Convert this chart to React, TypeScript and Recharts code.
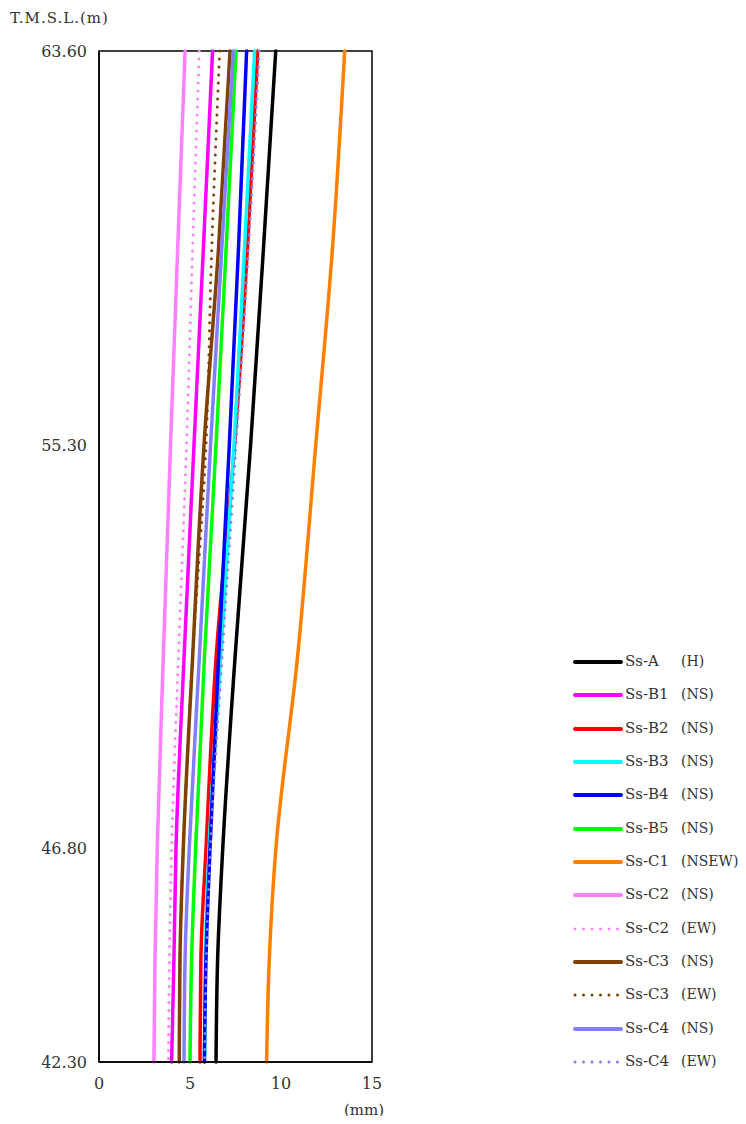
import { LineChart, Line, XAxis, YAxis, ReferenceArea } from 'recharts'

// elevation (T.M.S.L., m) at which each displacement was read
const ELEVATIONS = [63.6, 59.4, 55.3, 50.8, 46.8, 44.5, 42.3]
const Y_TICKS = [42.3, 46.8, 55.3, 63.6]
const X_TICKS = [0, 5, 10, 15]

// displacement (mm), same order as ELEVATIONS
const SS_A = [9.71, 9.03, 8.33, 7.47, 6.8, 6.52, 6.43]
const SS_B1 = [6.24, 5.73, 5.22, 4.67, 4.23, 4.12, 3.99]
const SS_B2 = [8.72, 8.15, 7.45, 6.43, 5.88, 5.6, 5.55]
const SS_B3 = [8.55, 7.99, 7.42, 6.68, 6.05, 5.85, 5.8]
const SS_B4 = [8.11, 7.66, 7.16, 6.57, 6.1, 5.88, 5.79]
const SS_B5 = [7.53, 6.98, 6.43, 5.79, 5.31, 5.09, 5.0]
const SS_C1 = [13.5, 12.82, 11.91, 10.9, 9.72, 9.36, 9.21]
const SS_C2_NS = [4.73, 4.32, 3.93, 3.53, 3.2, 3.08, 3.02]
const SS_C2_EW = [5.51, 5.14, 4.81, 4.36, 3.99, 3.87, 3.81]
const SS_C3_NS = [7.2, 6.56, 5.77, 5.14, 4.63, 4.45, 4.41]
const SS_C3_EW = [6.63, 6.19, 5.88, 5.14, 4.63, 4.45, 4.41]
const SS_C4_NS = [7.38, 6.74, 6.13, 5.51, 4.96, 4.73, 4.67]
const SS_C4_EW = [8.81, 8.21, 7.53, 6.76, 6.12, 5.9, 5.8]

const SERIES = [
  { key: 'a', name: 'Ss-A', dir: '(H)', values: SS_A, color: '#000000', dotted: false },
  { key: 'b1', name: 'Ss-B1', dir: '(NS)', values: SS_B1, color: '#ff00ff', dotted: false },
  { key: 'b2', name: 'Ss-B2', dir: '(NS)', values: SS_B2, color: '#ff0000', dotted: false },
  { key: 'b3', name: 'Ss-B3', dir: '(NS)', values: SS_B3, color: '#00ffff', dotted: false },
  { key: 'b4', name: 'Ss-B4', dir: '(NS)', values: SS_B4, color: '#0000ff', dotted: false },
  { key: 'b5', name: 'Ss-B5', dir: '(NS)', values: SS_B5, color: '#00ff00', dotted: false },
  { key: 'c1', name: 'Ss-C1', dir: '(NSEW)', values: SS_C1, color: '#ff8000', dotted: false },
  { key: 'c2ns', name: 'Ss-C2', dir: '(NS)', values: SS_C2_NS, color: '#ff80ff', dotted: false },
  { key: 'c2ew', name: 'Ss-C2', dir: '(EW)', values: SS_C2_EW, color: '#ff80ff', dotted: true },
  { key: 'c3ns', name: 'Ss-C3', dir: '(NS)', values: SS_C3_NS, color: '#804000', dotted: false },
  { key: 'c3ew', name: 'Ss-C3', dir: '(EW)', values: SS_C3_EW, color: '#804000', dotted: true },
  { key: 'c4ns', name: 'Ss-C4', dir: '(NS)', values: SS_C4_NS, color: '#8080ff', dotted: false },
  { key: 'c4ew', name: 'Ss-C4', dir: '(EW)', values: SS_C4_EW, color: '#8080ff', dotted: true },
]

const data = ELEVATIONS.map((elev, i) => {
  const row: Record<string, number> = { elev }
  SERIES.forEach((s) => {
    row[s.key] = s.values[i]
  })
  return row
})

const FONT = '"DejaVu Serif", "Liberation Serif", serif'

function LegendBox() {
  return (
    <div style={{ position: 'absolute', left: 565, top: 637, fontFamily: FONT, fontSize: 15, color: '#333' }}>
      {SERIES.map((s) => (
        <div key={s.key} style={{ position: 'relative', height: 33.33, width: 160 }}>
          <svg width={50} height={10} style={{ position: 'absolute', left: 0, top: 12 }}>
            <line
              x1={2}
              x2={48}
              y1={5}
              y2={5}
              stroke={s.color}
              strokeWidth={s.dotted ? 3 : 4}
              strokeLinecap='round'
              strokeDasharray={s.dotted ? '0 8.5' : undefined}
            />
          </svg>
          <span style={{ position: 'absolute', left: 52, top: 7 }}>{s.name}</span>
          <span style={{ position: 'absolute', left: 108, top: 8, fontSize: 14, whiteSpace: 'nowrap' }}>{s.dir}</span>
        </div>
      ))}
    </div>
  )
}

export default function App() {
  return (
    <div style={{ position: 'relative', width: 730, height: 1108, fontFamily: FONT }}>
      <div style={{ position: 'absolute', left: 2, top: 1, fontSize: 15, color: '#333', letterSpacing: 1 }}>T.M.S.L.(m)</div>
      <div style={{ position: 'absolute', left: 336, top: 1093, fontSize: 15, color: '#333' }}>(mm)</div>
      <LineChart
        width={380}
        height={1116}
        data={data}
        layout='vertical'
        margin={{ top: 43, right: 16, bottom: 2, left: 0 }}
      >
        <ReferenceArea
          x1={0}
          x2={15}
          y1={42.3}
          y2={63.6}
          fill='none'
          stroke='#000'
          strokeWidth={1.5}
          fillOpacity={0}
        />
        <XAxis
          type='number'
          domain={[0, 15]}
          ticks={X_TICKS}
          tickLine={false}
          axisLine={{ stroke: '#000', strokeWidth: 1.5 }}
          tick={{ fill: '#333', fontSize: 16, fontFamily: FONT }}
          tickMargin={10}
          height={60}
        />
        <YAxis
          type='number'
          dataKey='elev'
          domain={[42.3, 63.6]}
          ticks={Y_TICKS}
          reversed
          tickLine={false}
          axisLine={{ stroke: '#000', strokeWidth: 1.5 }}
          tick={{ fill: '#333', fontSize: 16, fontFamily: FONT }}
          tickFormatter={(v: number) => v.toFixed(2)}
          tickMargin={6}
          width={91}
        />
        {SERIES.map((s) => (
          <Line
            key={s.key}
            dataKey={s.key}
            type='monotone'
            stroke={s.color}
            strokeWidth={s.dotted ? 3 : 3.5}
            strokeDasharray={s.dotted ? '0 8' : undefined}
            strokeLinecap='round'
            dot={false}
            activeDot={false}
            isAnimationActive={false}
          />
        ))}
      </LineChart>
      <LegendBox />
    </div>
  )
}
